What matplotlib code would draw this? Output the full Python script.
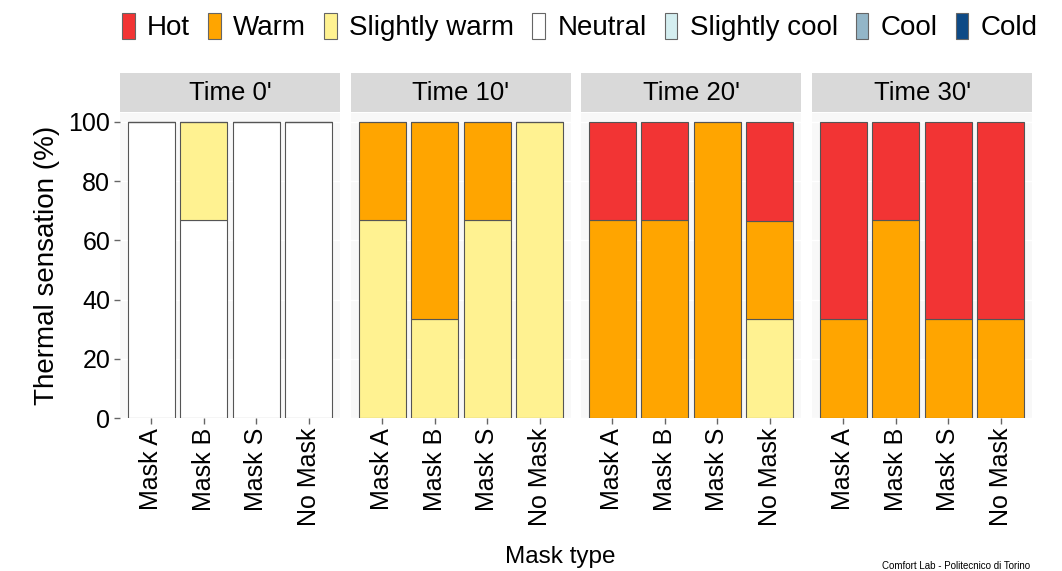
import numpy as np
import matplotlib.pyplot as plt
from matplotlib.patches import Patch

plt.rcParams['font.family'] = ['Liberation Sans', 'DejaVu Sans']

times = ["Time 0'", "Time 10'", "Time 20'", "Time 30'"]
masks = ['Mask A', 'Mask B', 'Mask S', 'No Mask']
sensations = ['Hot', 'Warm', 'Slightly warm', 'Neutral', 'Slightly cool', 'Cool', 'Cold']
colores = ['#F23434', '#FFA500', '#FFF291', '#FFFFFF', '#D4EEF0', '#93B6C8', '#0D4A86']

# porcentagem por tempo (linhas) e mascara (colunas)
hot = [[0, 0, 0, 0], [0, 0, 0, 0], [33.3, 33.3, 0, 33.3], [66.7, 33.3, 66.7, 66.7]]
warm = [[0, 0, 0, 0], [33.3, 66.7, 33.3, 0], [66.7, 66.7, 100, 33.3], [33.3, 66.7, 33.3, 33.3]]
slightly_warm = [[0, 33.3, 0, 0], [66.7, 33.3, 66.7, 100], [0, 0, 0, 33.3], [0, 0, 0, 0]]
neutral = [[100, 66.7, 100, 100], [0, 0, 0, 0], [0, 0, 0, 0], [0, 0, 0, 0]]
slightly_cool = [[0, 0, 0, 0]] * 4
cool = [[0, 0, 0, 0]] * 4
cold = [[0, 0, 0, 0]] * 4

series = [hot, warm, slightly_warm, neutral, slightly_cool, cool, cold]

W, H = 1062, 571
fig = plt.figure(figsize=(W / 100, H / 100), dpi=100)

panel_left = [120, 351, 581, 812]
panel_w = 220
y_top, y_bot = 113, 418
strip_top = 73

x = np.arange(len(masks))
for t, left in enumerate(panel_left):
    ax = fig.add_axes([left / W, (H - y_bot) / H, panel_w / W, (y_bot - y_top) / H])
    ax.set_facecolor('#F8F8F8')
    ax.grid(axis='y', color='white', linewidth=1)
    ax.set_axisbelow(True)
    base = np.zeros(len(masks))
    # empilha de baixo (Cold) para cima (Hot)
    for s in range(len(sensations) - 1, -1, -1):
        vals = np.array(series[s][t], dtype=float)
        ax.bar(x, vals, bottom=base, width=0.9, color=colores[s],
               edgecolor='#555555', linewidth=0.8)
        base += vals
    ax.set_xlim(-0.6, 3.6)
    ax.set_ylim(0, 103)
    ax.set_xticks(x)
    ax.set_xticklabels(masks, rotation=90, fontsize=18)
    ax.set_yticks([0, 20, 40, 60, 80, 100])
    ax.tick_params(axis='both', color='#666666', length=4, width=1, pad=3)
    if t == 0:
        ax.tick_params(axis='y', labelsize=18)
        ax.set_ylabel('Thermal sensation (%)', fontsize=20, labelpad=6)
    else:
        ax.tick_params(axis='y', left=False, labelleft=False)
    for sp in ax.spines.values():
        sp.set_visible(False)

    # faixa do titulo do painel
    sax = fig.add_axes([left / W, (H - y_top + 1) / H, panel_w / W, (y_top - 1 - strip_top) / H])
    sax.set_facecolor('#D9D9D9')
    sax.set_xticks([])
    sax.set_yticks([])
    for sp in sax.spines.values():
        sp.set_visible(False)
    sax.text(0.5, 0.5, times[t], ha='center', va='center', fontsize=18.5, transform=sax.transAxes)

fig.text(560 / W, 14 / H, 'Mask type', ha='center', va='center', fontsize=17.5)
fig.text(1030 / W, 5 / H, 'Comfort Lab - Politecnico di Torino', ha='right', va='center', fontsize=7)

handles = [Patch(facecolor=c, edgecolor='#666666', linewidth=0.8) for c in colores]
fig.legend(handles, sensations, loc='center', bbox_to_anchor=(580 / W, 1 - 27 / H), ncol=7,
           frameon=False, fontsize=20, handlelength=0.45, handleheight=1.1,
           handletextpad=0.45, columnspacing=0.65)

fig.savefig('out.png', dpi=100)
